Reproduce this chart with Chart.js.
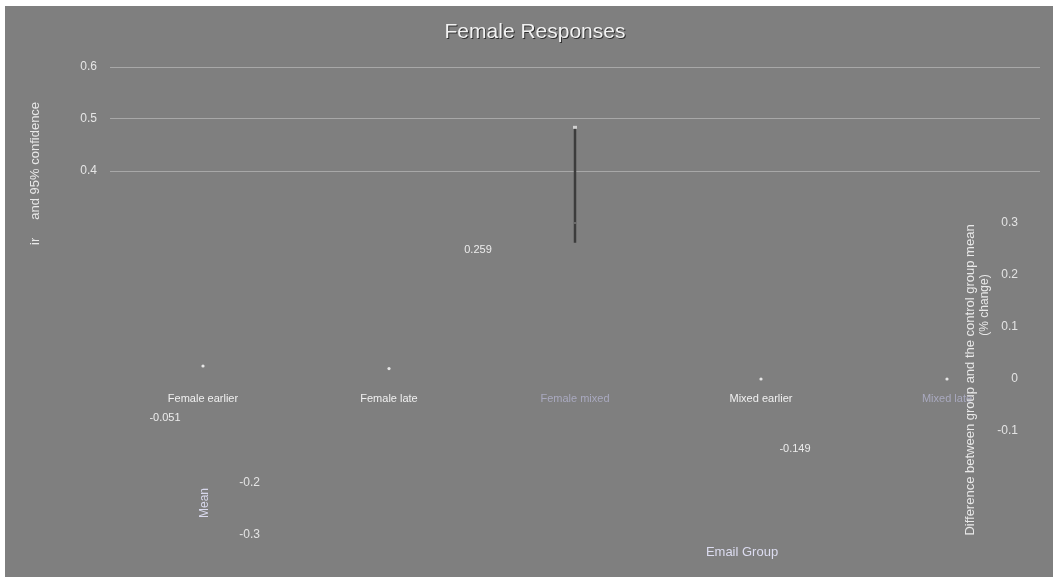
<!DOCTYPE html>
<html lang="en">
<head>
    <meta charset="UTF-8">
    <title>Female Responses</title>
    <script src="https://cdn.jsdelivr.net/npm/chart.js"></script>
    <style>
        html, body {
            margin: 0;
            padding: 0;
            background: #ffffff;
        }

        .wrap {
            position: absolute;
            left: 0;
            top: 0;
            width: 1055px;
            height: 577px;
        }
    </style>
</head>
<body>
    <div class="wrap">
        <canvas id="chart"></canvas>
    </div>

    <script>
        // data
        const groups = ['Female earlier', 'Female late', 'Female mixed', 'Mixed earlier', 'Mixed late'];
        const means = [0.025, 0.02, 0.3, 0.0, 0.0];
        const lower = [null, null, 0.262, null, null];
        const upper = [null, null, 0.483, null, null];
        const leftTicks = [0.6, 0.5, 0.4];
        const rightTicks = [0.3, 0.2, 0.1, 0, -0.1];
        const lowTicks = [-0.2, -0.3];
        const labelGroups = [0, 2, 3];
        const labelValues = [-0.051, 0.259, -0.149];

        const FONT = '"Liberation Sans", Arial, sans-serif';
        const labelShift = [[-38, 12], [-97, 6], [34, -8]];

        const fmt = v => (Math.abs(v) < 1e-9 ? '0' : v.toFixed(1));

        function rotText(ctx, text, x, y, align) {
            ctx.save();
            ctx.translate(x, y);
            ctx.rotate(-Math.PI / 2);
            ctx.textAlign = align;
            ctx.textBaseline = 'middle';
            ctx.fillText(text, 0, 0);
            ctx.restore();
        }

        const decor = {
            id: 'decor',
            beforeDraw(chart) {
                const ctx = chart.ctx;
                ctx.save();
                ctx.fillStyle = '#7f7f7f';
                ctx.fillRect(5, 6, chart.width - 7, chart.height - 6);
                ctx.restore();
            },
            afterDatasetsDraw(chart) {
                const ctx = chart.ctx;
                const x = chart.scales.x, y = chart.scales.y;
                ctx.save();
                // error bars
                ctx.strokeStyle = '#3c3c3c';
                ctx.lineWidth = 2.5;
                groups.forEach((g, i) => {
                    if (lower[i] == null) return;
                    const px = x.getPixelForValue(i);
                    ctx.beginPath();
                    ctx.moveTo(px, y.getPixelForValue(lower[i]));
                    ctx.lineTo(px, y.getPixelForValue(upper[i]));
                    ctx.stroke();
                    ctx.fillStyle = '#d0d0d0';
                    ctx.fillRect(px - 2, y.getPixelForValue(upper[i]) - 2, 4, 3);
                    ctx.fillStyle = '#6a6a6a';
                    ctx.fillRect(px - 1, y.getPixelForValue(means[i]) - 1, 2, 2);
                });
                ctx.restore();
            },
            afterDraw(chart) {
                const ctx = chart.ctx;
                const x = chart.scales.x, y = chart.scales.y;
                ctx.save();

                // title
                ctx.font = '21px ' + FONT;
                ctx.textAlign = 'center';
                ctx.textBaseline = 'middle';
                ctx.fillStyle = '#2e2e2e';
                ctx.fillText('Female Responses', 536, 33);
                ctx.fillStyle = '#f2f2f2';
                ctx.fillText('Female Responses', 535, 32);

                // extra tick labels
                ctx.font = '12px ' + FONT;
                ctx.fillStyle = '#e4e4e4';
                ctx.textAlign = 'right';
                rightTicks.forEach(v => ctx.fillText(fmt(v), 1018, y.getPixelForValue(v)));
                lowTicks.forEach(v => ctx.fillText(fmt(v), 260, y.getPixelForValue(v)));

                // axis titles
                ctx.fillStyle = '#e8e8e8';
                ctx.font = '13px ' + FONT;
                rotText(ctx, 'ir     and 95% confidence', 35, 245, 'left');
                rotText(ctx, 'Difference between group and the control group mean', 970, 380, 'center');
                ctx.font = '12px ' + FONT;
                rotText(ctx, '(% change)', 985, 305, 'center');
                ctx.fillStyle = '#d8d8ec';
                ctx.font = '12px ' + FONT;
                rotText(ctx, 'Mean', 205, 503, 'center');

                ctx.font = '13px ' + FONT;
                ctx.textAlign = 'center';
                ctx.fillStyle = '#dcdcf0';
                ctx.fillText('Email Group', 742, 552);

                // value labels
                ctx.font = '11px ' + FONT;
                ctx.fillStyle = '#ececec';
                labelGroups.forEach((g, i) => {
                    const px = x.getPixelForValue(g) + labelShift[i][0];
                    const py = y.getPixelForValue(labelValues[i]) + labelShift[i][1];
                    ctx.fillText(labelValues[i].toFixed(3), px, py);
                });
                ctx.restore();
            }
        };

        const ctx = document.getElementById('chart').getContext('2d');
        const chart = new Chart(ctx, {
            type: 'line',
            data: {
                labels: groups,
                datasets: [{
                    data: means,
                    showLine: false,
                    pointRadius: c => (c.dataIndex === 2 ? 0 : 1.6),
                    pointBorderWidth: 0,
                    pointBackgroundColor: '#e6e6e6'
                }]
            },
            options: {
                responsive: true,
                maintainAspectRatio: false,
                animation: false,
                layout: { padding: { left: 10, right: 15, top: 67, bottom: 42 } },
                plugins: {
                    legend: { display: false },
                    tooltip: { enabled: false }
                },
                scales: {
                    x: {
                        type: 'category',
                        position: { y: 0 },
                        offset: true,
                        grid: { display: false, drawTicks: false },
                        border: { display: false },
                        ticks: {
                            padding: 13,
                            maxRotation: 0,
                            autoSkip: false,
                            font: { size: 11, family: FONT },
                            color: c => (c.index === 2 || c.index === 4) ? '#a9a9bf' : '#f0f0f0'
                        }
                    },
                    y: {
                        min: -0.3,
                        max: 0.6,
                        afterFit: s => { s.width = 100; },
                        afterBuildTicks: s => { s.ticks = leftTicks.map(v => ({ value: v })); },
                        grid: { color: '#a8a8a8', lineWidth: 1, drawTicks: false },
                        border: { display: false },
                        ticks: {
                            padding: 13,
                            color: '#e6e6e6',
                            font: { size: 12, family: FONT },
                            callback: v => fmt(v)
                        }
                    }
                }
            },
            plugins: [decor]
        });
    </script>
</body>
</html>
